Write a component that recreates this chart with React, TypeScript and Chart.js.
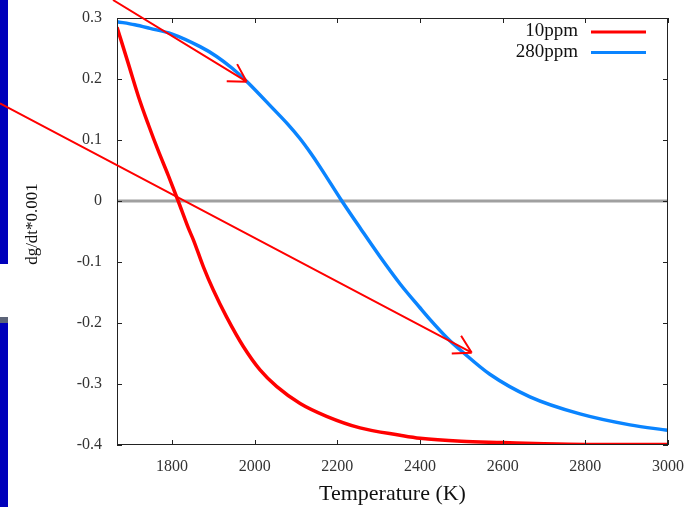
import React, { useEffect, useRef } from 'react';
import { Chart, registerables } from 'chart.js';

Chart.register(...registerables);

const xMin = 1667;
const xMax = 3000;
const xTicks = [1800, 2000, 2200, 2400, 2600, 2800, 3000];
const xTickLabels = ['1800', '2000', '2200', '2400', '2600', '2800', '3000'];
const yTicks = [-0.4, -0.3, -0.2, -0.1, 0, 0.1, 0.2, 0.3];
const yTickLabels = ['-0.4', '-0.3', '-0.2', '-0.1', '0', '0.1', '0.2', '0.3'];

const seriesNames = ['10ppm', '280ppm'];
const seriesColors = ['#ff0000', '#0a84ff'];

const redTemps = [1667, 1694, 1719, 1743, 1767, 1791, 1815, 1840, 1852, 1876, 1900, 1932, 1973, 2013, 2053, 2110, 2174, 2255, 2352, 2400, 2500, 2600, 2700, 2800, 2900, 3000];
const redValues = [0.285, 0.226, 0.171, 0.125, 0.082, 0.042, 0.0, -0.045, -0.064, -0.108, -0.146, -0.19, -0.239, -0.277, -0.304, -0.332, -0.353, -0.372, -0.384, -0.389, -0.394, -0.396, -0.398, -0.399, -0.399, -0.399];

const blueTemps = [1667, 1710, 1747, 1799, 1868, 1908, 1945, 1981, 2045, 2080, 2110, 2135, 2158, 2211, 2258, 2303, 2352, 2400, 2424, 2465, 2504, 2569, 2666, 2787, 2908, 3000];
const blueValues = [0.294, 0.289, 0.283, 0.274, 0.253, 0.237, 0.218, 0.196, 0.151, 0.126, 0.102, 0.079, 0.056, 0.0, -0.047, -0.091, -0.136, -0.175, -0.194, -0.224, -0.248, -0.284, -0.321, -0.349, -0.367, -0.376];

const zeroTemps = [1667, 3000];
const zeroValues = [0, 0];

const arrowStartT = [1657.3, 1383.9];
const arrowStartV = [0.3295, 0.16];
const arrowEndT = [1980.8, 2525.2];
const arrowEndV = [0.1956, -0.2487];

const xTitle = 'Temperature (K)';
const yTitle = 'dg/dt*0.001';

const SERIF = '"Liberation Serif", "DejaVu Serif", serif';

const toPoints = (xs: number[], ys: number[]) => xs.map((t, i) => ({ x: t, y: ys[i] }));

const decorPlugin = {
  id: 'decor',
  afterDatasetsDraw(chart: any) {
    const { ctx, chartArea, scales } = chart;
    const { left, right, top, bottom } = chartArea;
    const xs = scales.x;
    const ys = scales.y;
    ctx.save();
    ctx.strokeStyle = '#222';
    ctx.lineWidth = 1;
    ctx.strokeRect(left + 0.5, top + 0.5, right - left - 1, bottom - top - 1);
    ctx.beginPath();
    const tl = 5;
    xTicks.forEach((v) => {
      const px = Math.round(xs.getPixelForValue(v)) + 0.5;
      ctx.moveTo(px, bottom);
      ctx.lineTo(px, bottom - tl);
      ctx.moveTo(px, top);
      ctx.lineTo(px, top + tl);
    });
    yTicks.forEach((v) => {
      const py = Math.round(ys.getPixelForValue(v)) + 0.5;
      ctx.moveTo(left, py);
      ctx.lineTo(left + tl, py);
      ctx.moveTo(right, py);
      ctx.lineTo(right - tl, py);
    });
    ctx.stroke();
    ctx.restore();
  },
  afterDraw(chart: any) {
    const { ctx, chartArea, scales } = chart;
    const xs = scales.x;
    const ys = scales.y;
    ctx.save();

    ctx.fillStyle = '#111';
    ctx.font = `22px ${SERIF}`;
    ctx.textAlign = 'center';
    ctx.textBaseline = 'alphabetic';
    ctx.fillText(xTitle, (chartArea.left + chartArea.right) / 2, 500);

    ctx.save();
    ctx.translate(33, 224);
    ctx.rotate(-Math.PI / 2);
    ctx.font = `17px ${SERIF}`;
    ctx.textBaseline = 'middle';
    ctx.fillText(yTitle, 0, 0);
    ctx.restore();

    ctx.font = `19px ${SERIF}`;
    ctx.textAlign = 'right';
    ctx.textBaseline = 'alphabetic';
    chart.data.datasets.forEach((ds: any) => {
      const idx = seriesNames.indexOf(ds.label);
      if (idx < 0) return;
      const ly = 32 + idx * 20.5;
      ctx.fillStyle = '#111';
      ctx.fillText(ds.label, 578, ly + 4);
      ctx.strokeStyle = ds.borderColor;
      ctx.lineWidth = 3;
      ctx.beginPath();
      ctx.moveTo(591, ly);
      ctx.lineTo(646, ly);
      ctx.stroke();
    });

    ctx.strokeStyle = '#ff0000';
    ctx.lineWidth = 2;
    ctx.lineCap = 'butt';
    for (let i = 0; i < arrowStartT.length; i++) {
      const x1 = xs.getPixelForValue(arrowStartT[i]);
      const y1 = ys.getPixelForValue(arrowStartV[i]);
      const x2 = xs.getPixelForValue(arrowEndT[i]);
      const y2 = ys.getPixelForValue(arrowEndV[i]);
      const ang = Math.atan2(y2 - y1, x2 - x1);
      ctx.beginPath();
      ctx.moveTo(x1, y1);
      ctx.lineTo(x2, y2);
      for (const s of [-1, 1]) {
        const a = ang + Math.PI + s * (Math.PI / 6);
        ctx.moveTo(x2, y2);
        ctx.lineTo(x2 + 20 * Math.cos(a), y2 + 20 * Math.sin(a));
      }
      ctx.stroke();
    }
    ctx.restore();
  },
};

export default function App() {
  const canvasRef = useRef<HTMLCanvasElement | null>(null);

  useEffect(() => {
    if (!canvasRef.current) return;
    const chart = new Chart(canvasRef.current, {
      type: 'line',
      data: {
        datasets: [
          {
            label: seriesNames[0],
            data: toPoints(redTemps, redValues),
            borderColor: seriesColors[0],
            borderWidth: 3.5,
            pointRadius: 0,
            cubicInterpolationMode: 'monotone',
            fill: false,
          },
          {
            label: seriesNames[1],
            data: toPoints(blueTemps, blueValues),
            borderColor: seriesColors[1],
            borderWidth: 3.5,
            pointRadius: 0,
            cubicInterpolationMode: 'monotone',
            fill: false,
          },
          {
            label: 'zero',
            data: toPoints(zeroTemps, zeroValues),
            borderColor: '#a0a0a0',
            borderWidth: 3,
            pointRadius: 0,
            fill: false,
          },
        ],
      },
      options: {
        animation: false,
        responsive: true,
        maintainAspectRatio: false,
        layout: { padding: { left: 0, top: 18, right: 19, bottom: 0 } },
        plugins: {
          legend: { display: false },
          tooltip: { enabled: false },
          title: { display: false },
        },
        scales: {
          x: {
            type: 'linear',
            min: xMin,
            max: xMax,
            grid: { display: false, drawTicks: false },
            border: { display: false },
            afterBuildTicks: (scale: any) => {
              scale.ticks = xTicks.map((v) => ({ value: v }));
            },
            afterFit: (scale: any) => {
              scale.height = 62;
              scale.paddingLeft = 0;
              scale.paddingRight = 0;
              scale.paddingTop = 0;
              scale.paddingBottom = 0;
            },
            ticks: {
              padding: 12,
              color: '#333',
              font: { family: SERIF, size: 16 },
              maxRotation: 0,
              autoSkip: false,
              callback: (_v: any, i: number) => xTickLabels[i],
            },
          },
          y: {
            type: 'linear',
            min: -0.4,
            max: 0.3,
            grid: { display: false, drawTicks: false },
            border: { display: false },
            afterBuildTicks: (scale: any) => {
              scale.ticks = yTicks.map((v) => ({ value: v }));
            },
            afterFit: (scale: any) => {
              scale.width = 117;
              scale.paddingLeft = 0;
              scale.paddingRight = 0;
              scale.paddingTop = 0;
              scale.paddingBottom = 0;
            },
            ticks: {
              padding: 15,
              color: '#333',
              font: { family: SERIF, size: 16 },
              autoSkip: false,
              callback: (_v: any, i: number) => yTickLabels[i],
            },
          },
        },
      },
      plugins: [decorPlugin],
    } as any);
    return () => chart.destroy();
  }, []);

  return (
    <div style={{ position: 'fixed', left: 0, top: 0, width: 687, height: 507, background: '#fff', overflow: 'hidden' }}>
      <div style={{ position: 'absolute', left: 0, top: 0, width: 8, height: 264, background: '#0000bb' }} />
      <div style={{ position: 'absolute', left: 0, top: 317, width: 8, height: 6, background: '#5c6478' }} />
      <div style={{ position: 'absolute', left: 0, top: 323, width: 8, height: 184, background: '#0000bb' }} />
      <div style={{ position: 'absolute', left: 0, top: 0, width: 687, height: 507 }}>
        <canvas ref={canvasRef} />
      </div>
    </div>
  );
}
